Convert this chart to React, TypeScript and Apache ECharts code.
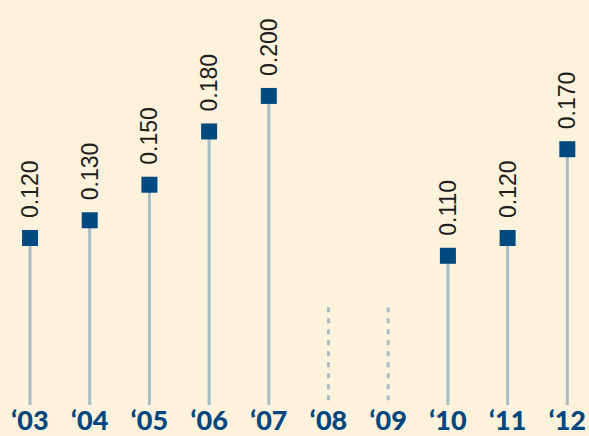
import React, { useEffect, useRef } from "react";
import * as echarts from "echarts";

const years = ["\u201803", "\u201804", "\u201805", "\u201806", "\u201807", "\u201808", "\u201809", "\u201810", "\u201811", "\u201812"];
const values: (number | null)[] = [0.12, 0.13, 0.15, 0.18, 0.2, null, null, 0.11, 0.12, 0.17];
// missing years shown as dotted stubs
const missing: (number | null)[] = [null, null, null, null, null, 0.081, 0.081, null, null, null];

const Y_MIN = 0.026;
const Y_MAX = 0.254;

export default function App() {
  const ref = useRef<HTMLDivElement>(null);
  useEffect(() => {
    document.body.style.margin = "0";
    const chart = echarts.init(ref.current!, null, { renderer: "svg" });
    chart.setOption({
      animation: false,
      backgroundColor: "#fdf2dc",
      textStyle: { fontFamily: "Arial" },
      grid: { left: 30, right: 20, top: 0, bottom: 31 },
      xAxis: {
        type: "category",
        data: years,
        boundaryGap: false,
        axisLine: { show: false },
        axisTick: { show: false },
        axisLabel: {
          color: "#00467f",
          fontFamily: "Lato",
          fontWeight: 900,
          fontSize: 27,
          margin: 1,
          interval: 0,
        },
      },
      yAxis: {
        type: "value",
        min: Y_MIN,
        max: Y_MAX,
        show: false,
        splitLine: { show: false },
      },
      series: [
        {
          type: "bar",
          data: values,
          barWidth: 3,
          itemStyle: { color: "#a8bbc8" },
          z: 1,
        },
        {
          type: "custom",
          data: missing.map((v, i) => [i, v]),
          renderItem: (params: any, api: any) => {
            const v = api.value(1);
            if (v == null || isNaN(v)) return null;
            const top = api.coord([api.value(0), v]);
            const bottom = api.coord([api.value(0), Y_MIN]);
            return {
              type: "line",
              shape: { x1: top[0], y1: top[1], x2: bottom[0], y2: bottom[1] },
              style: { stroke: "#a8bbc8", lineWidth: 3, lineDash: [5, 6] },
            };
          },
          z: 1,
        },
        {
          type: "scatter",
          data: values,
          symbol: "rect",
          symbolSize: 16,
          itemStyle: { color: "#004a80", opacity: 1 },
          z: 3,
          label: {
            show: true,
            position: "top",
            rotate: 90,
            align: "left",
            verticalAlign: "middle",
            distance: 12,
            color: "#1e1e1e",
            opacity: 1,
            fontFamily: "Arial",
            fontWeight: "normal",
            fontSize: 23,
            formatter: (p: any) => Number(p.value).toFixed(3),
          },
        },
      ],
    });
    return () => chart.dispose();
  }, []);
  return <div ref={ref} style={{ width: 589, height: 436 }} />;
}
